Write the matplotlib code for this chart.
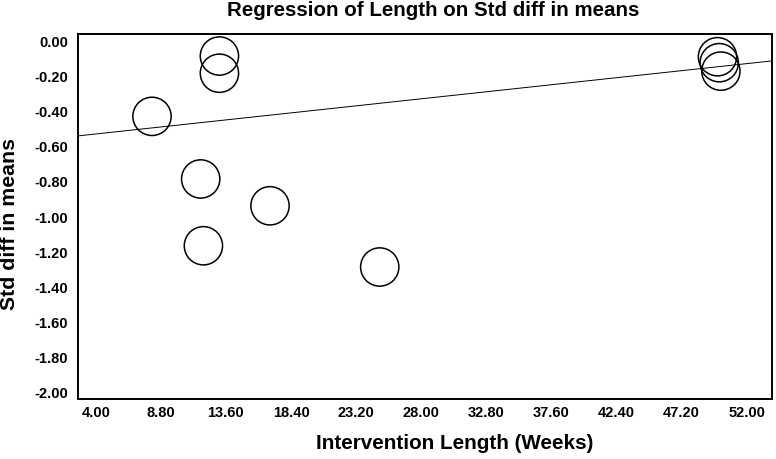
import numpy as np
import matplotlib.pyplot as plt

plt.rcParams['font.family'] = ['Liberation Sans', 'DejaVu Sans']

# study points (intervention length in weeks, std diff in means)
weeks = np.array([8.15, 13.12, 13.12, 11.74, 16.85, 11.94, 24.94, 49.84, 49.97, 50.09])
smd = np.array([-0.426, -0.082, -0.180, -0.783, -0.936, -1.164, -1.285, -0.086, -0.120, -0.168])

# regression line
intercept = -0.560
slope = 0.00836

xticks = [4.00, 8.80, 13.60, 18.40, 23.20, 28.00, 32.80, 37.60, 42.40, 47.20, 52.00]
yticks = [0.00, -0.20, -0.40, -0.60, -0.80, -1.00, -1.20, -1.40, -1.60, -1.80, -2.00]

fig = plt.figure(figsize=(7.76, 4.59), dpi=100)
ax = fig.add_axes([0.1001, 0.1314, 0.8944, 0.7939])

x0, x1 = 2.67, 53.84
ax.plot([x0, x1], [intercept + slope * x0, intercept + slope * x1], color='black', lw=0.7)
ax.scatter(weeks, smd, s=760, facecolors='none', edgecolors='black', linewidths=1.1, zorder=3)

ax.set_xlim(x0, x1)
ax.set_ylim(-2.036, 0.042)
ax.set_xticks(xticks)
ax.set_xticklabels(['%.2f' % t for t in xticks])
ax.set_yticks(yticks)
ax.set_yticklabels(['%.2f' % t for t in yticks])
ax.tick_params(length=0, labelsize=10.5)
ax.tick_params(axis='x', pad=5)
ax.tick_params(axis='y', pad=7)
for lab in ax.get_xticklabels() + ax.get_yticklabels():
    lab.set_fontweight('bold')
for sp in ax.spines.values():
    sp.set_linewidth(1.4)

ax.set_title('Regression of Length on Std diff in means', fontsize=14.8,
             fontweight='bold', x=0.512, pad=13)
ax.set_xlabel('Intervention Length (Weeks)', fontsize=14.9, fontweight='bold')
ax.xaxis.label.set_verticalalignment('center')
ax.xaxis.set_label_coords(0.5437, -0.124)
ax.set_ylabel('Std diff in means', fontsize=15.3, fontweight='bold')
ax.yaxis.label.set_verticalalignment('center')
ax.yaxis.set_label_coords(-0.0985, 0.48)

fig.savefig('out.png', dpi=100)
